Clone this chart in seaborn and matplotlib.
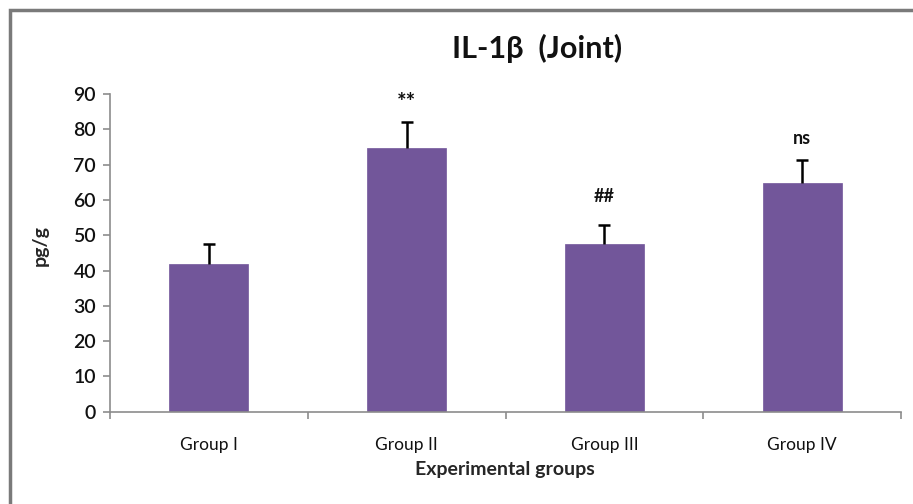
import matplotlib
matplotlib.use("Agg")
import matplotlib.pyplot as plt
from matplotlib.patches import Rectangle
import seaborn as sns
import pandas as pd

# IL-1β levels in joint tissue per experimental group (mean ± SEM)
groups = ["Group I", "Group II", "Group III", "Group IV"]
means = [41.8, 74.6, 47.6, 64.9]
sem = [5.7, 7.5, 5.2, 6.4]
marks = ["", "**", "##", "ns"]
mark_y = [0, 87.6, 61.1, 77.5]
yticks = list(range(0, 91, 10))

bar_color = "#72569a"
axis_gray = "#8c8c8c"
text_color = "#111111"

sns.set_theme(style="white")
plt.rcParams["font.family"] = ["Lato", "DejaVu Sans"]

fig = plt.figure(figsize=(9.13, 5.04), dpi=100)
ax = fig.add_axes([110 / 913, 92.3 / 504, 791 / 913, 317.7 / 504])

df = pd.DataFrame({"group": groups, "value": means})
sns.barplot(data=df, x="group", y="value", color=bar_color, saturation=1,
            width=0.4, errorbar=None, ax=ax, edgecolor=bar_color, linewidth=0.5)

# upper-only error bars with a cap
xpos = list(range(len(groups)))
tops = [m + s for m, s in zip(means, sem)]
cap = 0.03
ax.vlines(xpos, means, tops, color="black", linewidth=1.8, zorder=3)
ax.hlines(tops, [x - cap for x in xpos], [x + cap for x in xpos],
          color="black", linewidth=1.8, zorder=3)

for x, m, y in zip(xpos, marks, mark_y):
    if m:
        size = 16 if m == "**" else 13
        ax.text(x, y, m, ha="center", va="center", fontsize=size,
                fontweight="bold", color=text_color)

ax.set_xlim(-0.5, len(groups) - 0.5)
ax.set_ylim(0, 90)
ax.set_yticks(yticks)
ax.set_yticklabels([str(t) for t in yticks], fontsize=14,
                   fontweight="semibold", color=text_color)

ax.set_xticks(xpos)
ax.set_xticklabels(groups, fontsize=12.5, color=text_color)
ax.set_xticks([i - 0.5 for i in range(len(groups) + 1)], minor=True)
ax.tick_params(axis="x", which="major", length=0, pad=18)
ax.tick_params(axis="x", which="minor", length=5, width=1.2, color=axis_gray,
               direction="out", bottom=True)
ax.tick_params(axis="y", length=5, width=1.2, color=axis_gray,
               direction="out", left=True, pad=5)

for side in ["top", "right"]:
    ax.spines[side].set_visible(False)
for side in ["left", "bottom"]:
    ax.spines[side].set_color(axis_gray)
    ax.spines[side].set_linewidth(1.2)

ax.set_xlabel("Experimental groups", fontsize=14, fontweight="bold")
ax.set_ylabel("pg/g", fontsize=14, fontweight="bold")
ax.xaxis.set_label_coords((505 - 110) / 791, -(470 - 411.7) / 317.7)
ax.yaxis.set_label_coords(-(110 - 40) / 791, (411.7 - 245) / 317.7)
ax.xaxis.label.set_va("center")
ax.yaxis.label.set_va("center")

fig.text(537 / 913, 1 - 48 / 504, "IL-1β  (Joint)", ha="center", va="center",
         fontsize=22, fontweight="bold", color=text_color)

# chart-area frame
fig.patches.append(Rectangle((9.5 / 913, -0.05), 1.2, 1 - 10 / 504 + 0.05,
                             transform=fig.transFigure, fill=False,
                             edgecolor="#7a7a7a", linewidth=2.5))

fig.savefig("out.png", dpi=100)
